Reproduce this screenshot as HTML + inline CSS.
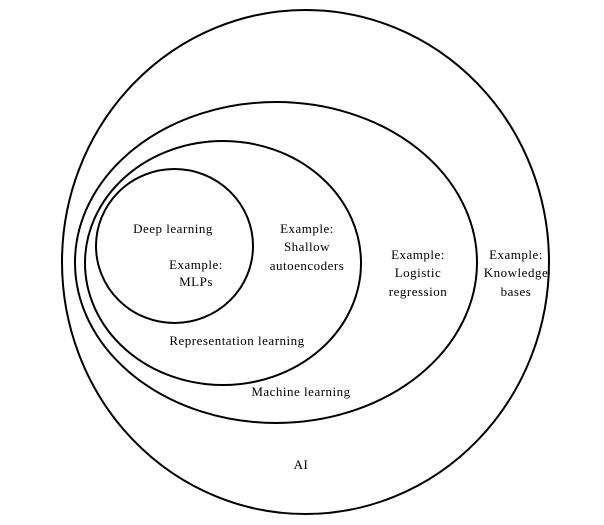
<!DOCTYPE html>
<html><head><meta charset="utf-8"><style>
html,body{margin:0;padding:0;background:#fff;}
svg{display:block;}
text{font-family:"Liberation Serif","DejaVu Serif",serif;font-size:13px;letter-spacing:0.5px;fill:#000;text-anchor:middle;}
</style></head><body>
<svg width="604" height="525" viewBox="0 0 604 525" xmlns="http://www.w3.org/2000/svg">
<g fill="none" stroke="#000" stroke-width="2">
<ellipse cx="305.5" cy="262" rx="243.5" ry="252"/>
<ellipse cx="276" cy="262.5" rx="201" ry="160.5"/>
<ellipse cx="223" cy="263" rx="138" ry="122"/>
<ellipse cx="174.5" cy="246" rx="78.5" ry="77"/>
</g>
<text x="173" y="233">Deep learning</text>
<text x="196" y="269">Example:</text>
<text x="196" y="286">MLPs</text>
<text x="307" y="233">Example:</text>
<text x="307" y="251">Shallow</text>
<text x="307" y="270">autoencoders</text>
<text x="237" y="345">Representation learning</text>
<text x="418" y="259">Example:</text>
<text x="418" y="277">Logistic</text>
<text x="418" y="296">regression</text>
<text x="301" y="396">Machine learning</text>
<text x="516" y="259">Example:</text>
<text x="516" y="277">Knowledge</text>
<text x="516" y="296">bases</text>
<text x="301" y="469">AI</text>
</svg>
</body></html>
